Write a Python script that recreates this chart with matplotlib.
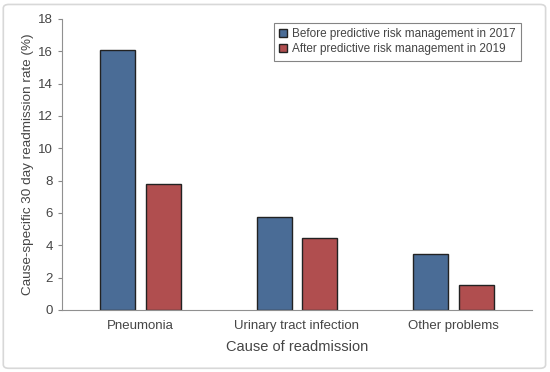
import numpy as np
import matplotlib.pyplot as plt
from matplotlib.patches import FancyBboxPatch

plt.rcParams['font.family'] = ['Liberation Sans', 'DejaVu Sans']

causes = ['Pneumonia', 'Urinary tract infection', 'Other problems']
before_2017 = [16.1, 5.75, 3.45]
after_2019 = [7.8, 4.45, 1.55]
series_labels = ['Before predictive risk management in 2017',
                 'After predictive risk management in 2019']

blue = '#4a6c96'
red = '#b04e4f'
grey = '#454545'

fig = plt.figure(figsize=(5.5, 3.72), dpi=100)
ax = fig.add_axes([0.113, 0.167, 0.854, 0.782])

# light frame round the whole figure
frame = FancyBboxPatch((0.006, 0.01), 0.986, 0.978, boxstyle='round,pad=0,rounding_size=0.01',
                       transform=fig.transFigure, fill=False, edgecolor='#d8d8d8', linewidth=1.2)
fig.patches.append(frame)

x = np.arange(len(causes))
w = 0.225
ax.bar(x - 0.145, before_2017, w, color=blue, edgecolor='#222222', linewidth=1.0,
       label=series_labels[0])
ax.bar(x + 0.145, after_2019, w, color=red, edgecolor='#222222', linewidth=1.0,
       label=series_labels[1])

ax.set_xlim(-0.5, 2.5)
ax.set_ylim(0, 18)
ax.set_yticks(range(0, 19, 2))
ax.set_xticks(x)
ax.set_xticklabels(causes)
ax.tick_params(axis='x', length=0, pad=7, labelsize=9.5, labelcolor=grey)
ax.tick_params(axis='y', length=3, color='#888888', labelsize=9.5, labelcolor=grey)

for s in ['top', 'right']:
    ax.spines[s].set_visible(False)
for s in ['left', 'bottom']:
    ax.spines[s].set_color('#909090')

ax.set_ylabel('Cause-specific 30 day readmission rate (%)', fontsize=9.7, color=grey, labelpad=3)
ax.set_xlabel('Cause of readmission', fontsize=10.5, color=grey, labelpad=6)

leg = ax.legend(loc='upper right', bbox_to_anchor=(0.977, 0.986), borderaxespad=0,
                fontsize=8.5, frameon=True, fancybox=False, handlelength=0.7,
                handleheight=0.7, handletextpad=0.4, borderpad=0.45, labelspacing=0.25)
leg.get_frame().set_edgecolor('#666666')
leg.get_frame().set_linewidth(0.8)
for t in leg.get_texts():
    t.set_color(grey)

fig.savefig('out.png', dpi=100)
